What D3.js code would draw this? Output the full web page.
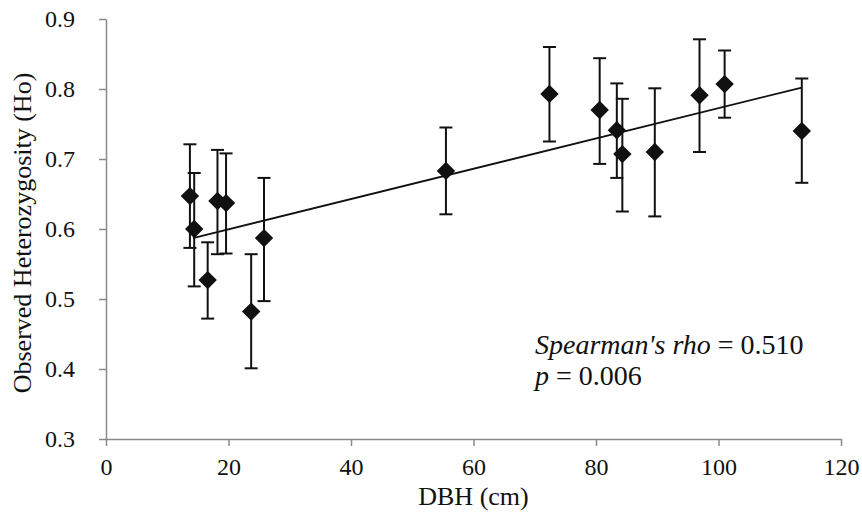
<!DOCTYPE html>
<meta charset="utf-8">
<style>
body { margin: 0; background: #fff; }
text { font-family: "Liberation Serif", "Times New Roman", serif; fill: #111; }
.axis path, .axis line { stroke: #8a8a8a; stroke-width: 1.5px; }
.axis text { font-size: 24px; }
</style>
<script src="https://cdn.jsdelivr.net/npm/d3@7"></script>
<body>
<script>

// values
var dbh = [13.7, 14.4, 16.6, 18.2, 19.6, 23.7, 25.8, 55.5, 72.4, 80.6, 83.4, 84.3, 89.6, 96.9, 101.0, 113.6];
var ho  = [0.647, 0.600, 0.527, 0.640, 0.637, 0.482, 0.587, 0.683, 0.793, 0.770, 0.741, 0.707, 0.710, 0.791, 0.807, 0.740];
var hoHigh = [0.721, 0.680, 0.581, 0.713, 0.708, 0.564, 0.673, 0.745, 0.860, 0.844, 0.808, 0.786, 0.801, 0.871, 0.855, 0.815];
var hoLow  = [0.573, 0.518, 0.472, 0.564, 0.565, 0.401, 0.497, 0.621, 0.725, 0.693, 0.673, 0.625, 0.618, 0.710, 0.759, 0.666];

// linear trend line ends
var trendX = [14.2, 113.6];
var trendY = [0.587, 0.802];

var xTicks = [0, 20, 40, 60, 80, 100, 120];
var yTicks = [0.3, 0.4, 0.5, 0.6, 0.7, 0.8, 0.9];

var width = 862,
    height = 515;

var mLeft = 106, mRight = 841, mTop = 19, mBottom = 439;

var svg = d3.select("body")
              .append("svg")
              .attr("width", width)
              .attr("height", height);

var x = d3.scaleLinear().domain([0, 120]).range([mLeft, mRight]);
var y = d3.scaleLinear().domain([0.3, 0.9]).range([mBottom, mTop]);

svg.append("g")
    .attr("class", "axis")
    .attr("transform", "translate(0," + mBottom + ")")
    .call(d3.axisBottom(x).tickValues(xTicks).tickSize(7).tickSizeOuter(0).tickPadding(12));

svg.append("g")
    .attr("class", "axis")
    .attr("transform", "translate(" + mLeft + ",0)")
    .call(d3.axisLeft(y).tickValues(yTicks).tickSize(7).tickSizeOuter(0).tickPadding(24)
      .tickFormat(d3.format(".1f")));

// axis titles
svg.append("text")
    .attr("x", (mLeft + mRight) / 2)
    .attr("y", 505)
    .attr("text-anchor", "middle")
    .attr("font-size", "26px")
    .text("DBH (cm)");

svg.append("text")
    .attr("transform", "translate(31,233) rotate(-90)")
    .attr("text-anchor", "middle")
    .attr("font-size", "26px")
    .text("Observed Heterozygosity (Ho)");

var pts = dbh.map(function (d, i) {
  return { x: d, y: ho[i], hi: hoHigh[i], lo: hoLow[i] };
});

// trend line
var line = d3.line()
    .x(function (d) { return x(d[0]); })
    .y(function (d) { return y(d[1]); });

svg.append("path")
    .attr("d", line(d3.zip(trendX, trendY)))
    .attr("fill", "none")
    .attr("stroke", "#111")
    .attr("stroke-width", 1.8);

// error bars
var bars = svg.append("g").attr("stroke", "#111").attr("stroke-width", 2);

bars.selectAll(".stem").data(pts).enter().append("line")
    .attr("x1", function (d) { return x(d.x); })
    .attr("x2", function (d) { return x(d.x); })
    .attr("y1", function (d) { return y(d.hi); })
    .attr("y2", function (d) { return y(d.lo); });

["hi", "lo"].forEach(function (k) {
  bars.selectAll(".cap-" + k).data(pts).enter().append("line")
      .attr("x1", function (d) { return x(d.x) - 6.5; })
      .attr("x2", function (d) { return x(d.x) + 6.5; })
      .attr("y1", function (d) { return y(d[k]); })
      .attr("y2", function (d) { return y(d[k]); });
});

// diamonds
var diamond = d3.symbol().type(d3.symbolSquare).size(170);

svg.selectAll(".pt").data(pts).enter().append("path")
    .attr("d", diamond)
    .attr("transform", function (d) { return "translate(" + x(d.x) + "," + y(d.y) + ") rotate(45)"; })
    .attr("fill", "#111");

// annotation
var note = svg.append("text")
    .attr("x", 535)
    .attr("y", 354)
    .attr("font-size", "28px");
note.append("tspan").attr("font-style", "italic").text("Spearman's rho");
note.append("tspan").text(" = 0.510");

var note2 = svg.append("text")
    .attr("x", 535)
    .attr("y", 385)
    .attr("font-size", "28px");
note2.append("tspan").attr("font-style", "italic").text("p");
note2.append("tspan").text(" = 0.006");

</script>
</body>
